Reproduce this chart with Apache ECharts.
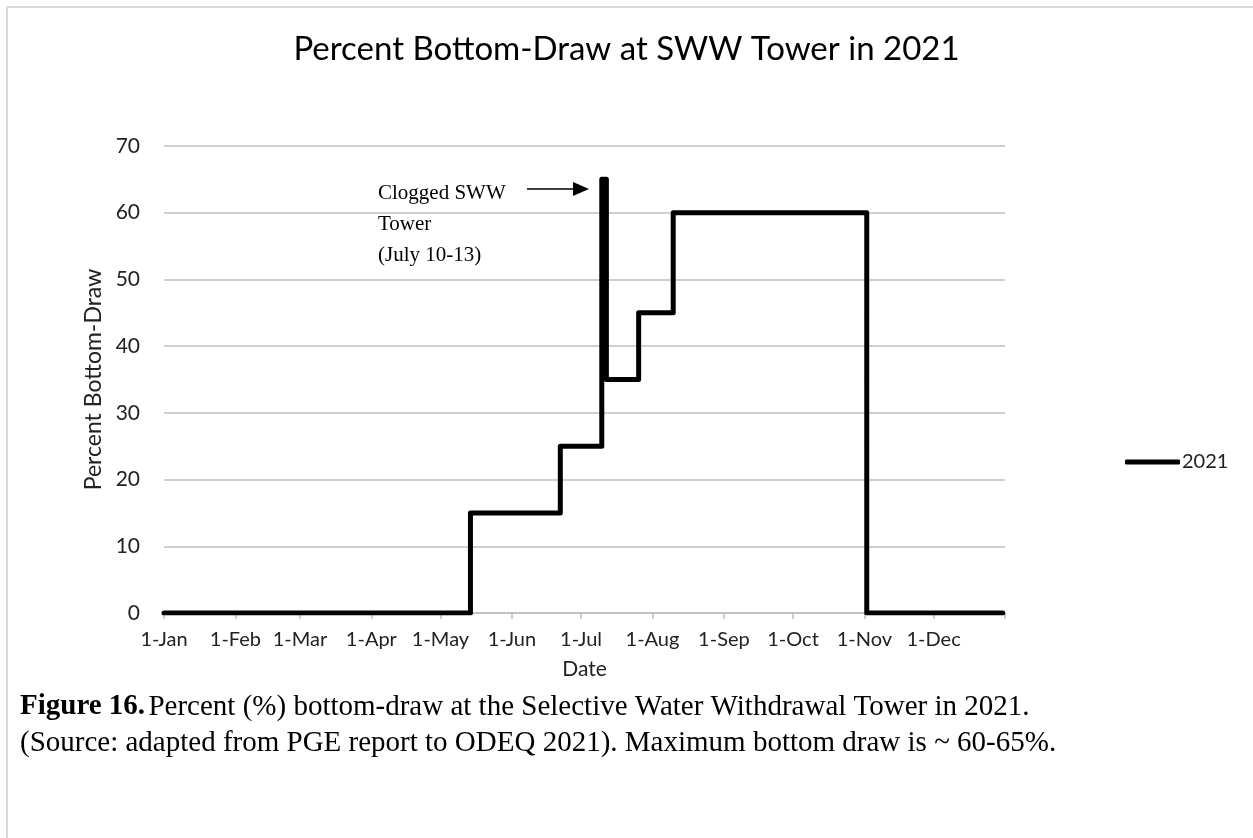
<!DOCTYPE html>
<html>
<head>
<meta charset="utf-8">
<script src="https://cdn.jsdelivr.net/npm/echarts@6/dist/echarts.min.js"></script>
<style>
  html, body { margin: 0; padding: 0; background: #fff; }
  #main { width: 1253px; height: 838px; }
</style>
</head>
<body>
<div id="main"></div>
<script>
// 단계별 변화 시점 (날짜) 과 그 날부터의 값
var changeDates = ['2021-01-01', '2021-05-14', '2021-06-22', '2021-07-10', '2021-07-12', '2021-07-26', '2021-08-10', '2021-11-02', '2021-12-31'];
var drawValues = [0, 15, 25, 65, 35, 45, 60, 0, 0];

var monthNames = ['Jan', 'Feb', 'Mar', 'Apr', 'May', 'Jun', 'Jul', 'Aug', 'Sep', 'Oct', 'Nov', 'Dec'];
var yTicks = [0, 10, 20, 30, 40, 50, 60, 70];

// 날짜 -> 1월 1일부터의 일수
function dayOfYear(s) {
  var p = s.split('-');
  return (Date.UTC(+p[0], +p[1] - 1, +p[2]) - Date.UTC(+p[0], 0, 1)) / 86400000;
}
var monthStarts = [];
for (var m = 0; m <= 12; m++) {
  monthStarts.push((Date.UTC(2021, m, 1) - Date.UTC(2021, 0, 1)) / 86400000);
}

var seriesData = changeDates.map(function (d, i) { return [dayOfYear(d), drawValues[i]]; });

var chart = echarts.init(document.getElementById('main'));

var option = {
  backgroundColor: '#fff',
  animation: false,
  title: {
    text: 'Percent Bottom-Draw at SWW Tower in 2021',
    left: 'center',
    top: 28,
    textStyle: {
      fontFamily: 'Lato',
      fontWeight: 'normal',
      fontSize: 33,
      color: '#000'
    }
  },
  legend: {
    data: ['2021'],
    orient: 'vertical',
    left: 1120,
    top: 447,
    icon: 'roundRect',
    itemWidth: 55,
    itemHeight: 5,
    textStyle: { fontFamily: 'Lato', fontSize: 20, color: '#222', padding: [0, 0, 0, -3] }
  },
  grid: {
    left: 164,
    right: 248,
    top: 146,
    bottom: 225
  },
  xAxis: {
    type: 'value',
    min: 0,
    max: 365,
    name: 'Date',
    nameLocation: 'middle',
    nameGap: 46,
    nameTextStyle: { fontFamily: 'Lato', fontSize: 21, color: '#222' },
    axisLine: { show: true, lineStyle: { color: '#bfbfbf', width: 1.5 } },
    axisTick: { show: true, customValues: monthStarts, length: 6, lineStyle: { color: '#bfbfbf', width: 1.5 } },
    splitLine: { show: false },
    axisLabel: {
      customValues: monthStarts.slice(0, 12),
      fontFamily: 'Lato',
      fontSize: 20,
      color: '#222',
      margin: 17,
      formatter: function (v) {
        var idx = monthStarts.indexOf(Math.round(v));
        return idx >= 0 && idx < 12 ? '1-' + monthNames[idx] : '';
      }
    }
  },
  yAxis: {
    type: 'value',
    min: 0,
    max: 70,
    interval: 10,
    name: 'Percent Bottom-Draw',
    nameLocation: 'middle',
    nameGap: 57,
    nameTextStyle: { fontFamily: 'Lato', fontSize: 23, color: '#222' },
    axisLine: { show: false },
    axisTick: { show: false },
    splitLine: { show: true, lineStyle: { color: '#bfbfbf', width: 1.5 } },
    axisLabel: {
      fontFamily: 'Lato',
      fontSize: 21,
      color: '#222',
      margin: 24,
      formatter: function (v) { return yTicks.indexOf(v) >= 0 ? String(v) : ''; }
    }
  },
  series: [
    {
      name: '2021',
      type: 'line',
      step: 'end',
      showSymbol: false,
      data: seriesData,
      itemStyle: { color: '#000' },
      lineStyle: { color: '#000', width: 5, cap: 'round', join: 'round' }
    }
  ],
  graphic: [
    // 바깥 테두리
    { type: 'line', shape: { x1: 7, y1: 7, x2: 1253, y2: 7 }, style: { stroke: '#d9d9d9', lineWidth: 2 } },
    { type: 'line', shape: { x1: 7, y1: 7, x2: 7, y2: 838 }, style: { stroke: '#d9d9d9', lineWidth: 2 } },
    // 주석
    {
      type: 'text', left: 378, top: 178,
      style: { text: 'Clogged SWW\nTower\n(July 10-13)', font: '21px "Liberation Serif"', fill: '#000', lineHeight: 31 }
    },
    { type: 'line', shape: { x1: 527, y1: 189, x2: 576, y2: 189 }, style: { stroke: '#000', lineWidth: 1.5 } },
    { type: 'polygon', shape: { points: [[573, 182], [589, 189], [573, 196]] }, style: { fill: '#000' } },
    // 캡션
    {
      type: 'text', left: 20, top: 689,
      style: {
        rich: {
          b: { font: 'bold 29px "Liberation Serif"', fill: '#000' },
          n: { font: '29px "Liberation Serif"', fill: '#000' }
        },
        text: '{b|Figure 16.} {n|Percent (%) bottom-draw at the Selective Water Withdrawal Tower in 2021.}\n{n|(Source: adapted from PGE report to ODEQ 2021). Maximum bottom draw is ~ 60-65%.}',
        lineHeight: 36
      }
    }
  ]
};

chart.setOption(option);
</script>
</body>
</html>
